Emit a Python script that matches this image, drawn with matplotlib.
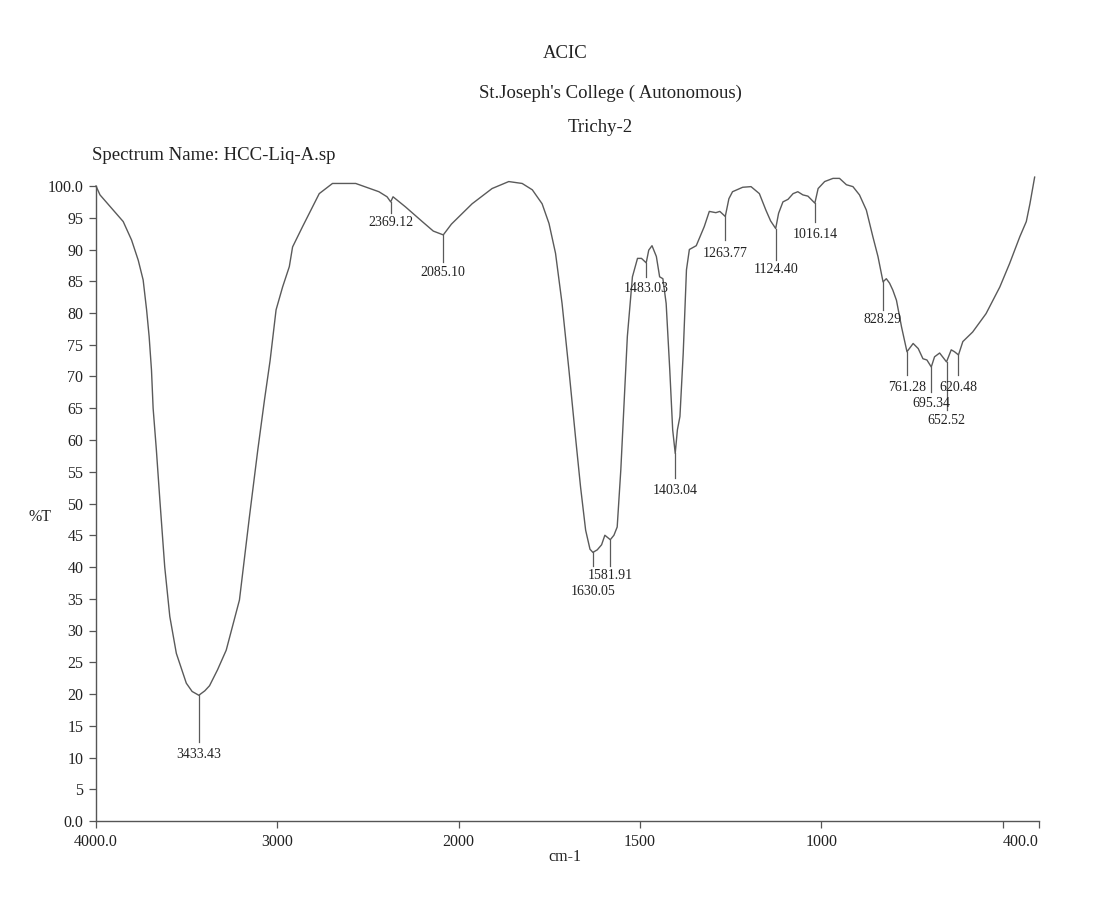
import numpy as np
import matplotlib
matplotlib.use("Agg")
import matplotlib.pyplot as plt

# ---------------- data ----------------
wavenumber = [4000, 3978, 3923, 3850, 3804, 3767, 3740, 3721, 3707, 3694, 3685, 3667, 3648,
              3621, 3593, 3557, 3502, 3470, 3433, 3400, 3374, 3330, 3282, 3209, 3154, 3108,
              3071, 3040, 3007, 2971, 2934, 2916, 2861, 2769, 2696, 2568, 2440, 2395, 2375,
              2362, 2293, 2201, 2140, 2085, 2040, 1963, 1908, 1862, 1825, 1797, 1770, 1751,
              1733, 1715, 1696, 1678, 1664, 1650, 1638, 1630, 1618, 1606, 1597, 1582, 1572,
              1563, 1553, 1544, 1535, 1521, 1507, 1496, 1483, 1476, 1467, 1455, 1446, 1437,
              1428, 1418, 1410, 1403, 1397, 1390, 1381, 1372, 1364, 1345, 1323, 1309, 1291,
              1280, 1265, 1255, 1245, 1217, 1194, 1171, 1153, 1140, 1126, 1118, 1106, 1092,
              1078, 1065, 1051, 1037, 1018, 1009, 991, 968, 950, 931, 913, 895, 876, 858,
              844, 830, 821, 812, 803, 793, 779, 764, 747, 733, 720, 709, 697, 688, 674,
              655, 642, 633, 622, 610, 583, 546, 508, 481, 453, 435, 425, 412]
transmittance = [100.0, 98.6, 96.8, 94.4, 91.5, 88.3, 85.2, 80.5, 76.3, 71.0, 65.0, 58.4, 50.6,
                 40.0, 32.2, 26.4, 21.7, 20.4, 19.8, 20.5, 21.3, 23.8, 26.9, 34.8, 47.9, 58.4,
                 66.3, 72.5, 80.5, 84.1, 87.3, 90.4, 93.6, 98.8, 100.4, 100.4, 99.1, 98.3, 97.5,
                 98.3, 96.7, 94.4, 92.9, 92.3, 94.0, 97.2, 99.6, 100.7, 100.4, 99.4, 97.2, 94.1,
                 89.4, 81.5, 71.0, 60.5, 52.6, 45.8, 42.8, 42.3, 42.7, 43.5, 45.0, 44.3, 45.0,
                 46.3, 55.3, 65.8, 76.3, 85.7, 88.6, 88.6, 87.9, 89.9, 90.6, 88.9, 85.7, 85.4,
                 81.5, 71.0, 61.6, 57.9, 61.6, 63.7, 73.6, 86.8, 90.0, 90.6, 93.6, 96.0, 95.8,
                 96.0, 95.2, 98.0, 99.1, 99.8, 99.9, 98.8, 96.2, 94.5, 93.3, 95.7, 97.5, 97.9,
                 98.8, 99.1, 98.6, 98.4, 97.3, 99.6, 100.7, 101.2, 101.2, 100.2, 99.9, 98.6, 96.2, 92.0,
                 88.9, 84.9, 85.4, 84.7, 83.6, 82.0, 77.8, 73.9, 75.2, 74.4, 72.8, 72.6, 71.5, 73.1, 73.7,
                 72.3, 74.2, 73.9, 73.4, 75.5, 77.0, 79.9, 84.1, 87.8, 92.0, 94.4, 97.2, 101.4]

peak_labels = ["3433.43", "2369.12", "2085.10", "1630.05", "1581.91", "1483.03", "1403.04",
               "1263.77", "1124.40", "1016.14", "828.29", "761.28", "695.34", "652.52", "620.48"]
peak_wn = [3433.43, 2375, 2085.10, 1630.05, 1581.91, 1483.03, 1403.04,
           1265, 1126, 1018, 830, 764, 697, 655, 622]
peak_T = [19.8, 97.5, 92.3, 42.3, 44.3, 87.9, 57.9,
          95.2, 93.3, 97.3, 84.9, 73.9, 71.5, 72.3, 73.4]

y_ticks = [0, 5, 10, 15, 20, 25, 30, 35, 40, 45, 50, 55, 60, 65, 70, 75, 80, 85, 90, 95, 100]
y_ticklabels = ["0.0", "5", "10", "15", "20", "25", "30", "35", "40", "45", "50", "55", "60",
                "65", "70", "75", "80", "85", "90", "95", "100.0"]
x_ticks = [4000, 3000, 2000, 1500, 1000, 500, 400]
x_ticklabels = ["4000.0", "3000", "2000", "1500", "1000", "", "400.0"]

# label layout (line end / text centre, in %T units)
line_end = [12.4, 95.7, 88.0, 40.2, 40.2, 85.7, 54.0, 91.5, 88.3, 94.3, 80.5, 70.2, 67.6, 64.7, 70.2]
text_y = [10.5, 94.2, 86.3, 36.1, 38.7, 83.9, 52.1, 89.4, 86.8, 92.3, 78.9, 68.3, 65.8, 63.1, 68.3]

# ---------------- drawing ----------------
SERIF = ["Liberation Serif", "DejaVu Serif"]
plt.rcParams['font.family'] = SERIF
ink = "#222222"
curve_col = "#5a5a5a"

fig = plt.figure(figsize=(10.93, 9.01), dpi=100)
W, H = 1093, 901
ax = fig.add_axes([96 / W, 1 - 821 / H, (1039 - 96) / W, (821 - 186) / H])


def fwd(x):
    x = np.asarray(x, dtype=float)
    return np.where(x > 2000, 2000 + (x - 2000) * 0.5, x)


def inv(u):
    u = np.asarray(u, dtype=float)
    return np.where(u > 2000, 2000 + (u - 2000) * 2.0, u)


ax.set_xscale('function', functions=(fwd, inv))
ax.set_xlim(4000, 400)
ax.set_ylim(0, 100)

ax.plot(wavenumber, transmittance, color=curve_col, lw=1.0, clip_on=False)

for lab, wx, wy, le, ty in zip(peak_labels, peak_wn, peak_T, line_end, text_y):
    ax.plot([wx, wx], [wy, le], color=curve_col, lw=0.9, clip_on=False)
    ax.text(wx, ty, lab, ha='center', va='center', fontsize=10, color=ink, clip_on=False)

for s in ("top", "right"):
    ax.spines[s].set_visible(False)
for s in ("left", "bottom"):
    ax.spines[s].set_color("#555555")
    ax.spines[s].set_linewidth(1.0)

ax.set_yticks(y_ticks)
ax.set_yticklabels(y_ticklabels, fontsize=11.5, color=ink)
ax.set_xticks(x_ticks)
ax.set_xticklabels(x_ticklabels, fontsize=11.5, color=ink)
ax.xaxis.set_minor_locator(matplotlib.ticker.NullLocator())
ax.tick_params(axis='both', length=5, width=0.9, color="#555555", pad=4)
ax.get_xticklabels()[-1].set_horizontalalignment('right')
ax.get_xticklabels()[-1].set_x(400)

fig.text(40 / W, 1 - 517 / H, "%T", fontsize=11.5, color=ink, ha='center', va='center')
fig.text(565 / W, 1 - 857 / H, "cm-1", fontsize=11.5, color=ink, ha='center', va='center')

fig.text(565 / W, 1 - 53 / H, "ACIC", fontsize=13.5, color=ink, ha='center', va='center')
fig.text(610 / W, 1 - 93 / H, "St.Joseph's College ( Autonomous)", fontsize=13.5, color=ink,
         ha='center', va='center')
fig.text(600 / W, 1 - 127 / H, "Trichy-2", fontsize=13.5, color=ink, ha='center', va='center')
fig.text(92 / W, 1 - 155 / H, "Spectrum Name: HCC-Liq-A.sp", fontsize=13.5, color=ink,
         ha='left', va='center')

fig.savefig("out.png", dpi=100, facecolor="white")
